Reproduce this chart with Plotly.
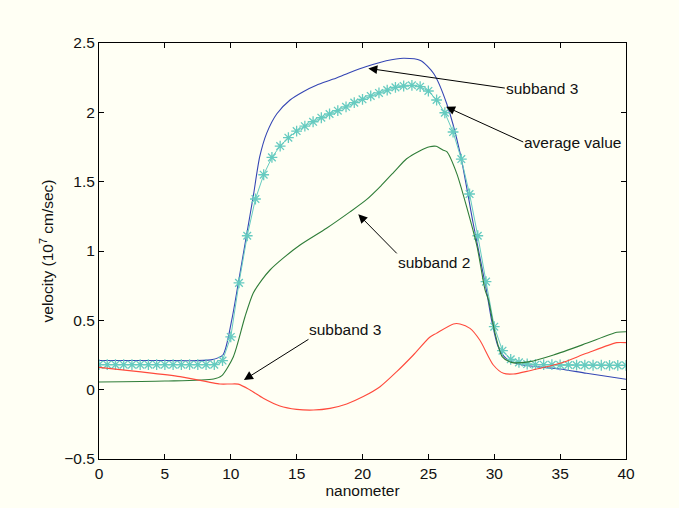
import numpy as np
import plotly.graph_objects as go

# ---- data ----
blue_x = [0, 5, 8.5, 9.4, 10.07, 10.57, 11.2, 11.7, 12.2, 12.73, 13.5, 14.5, 15.5, 16.5, 17.8, 19, 20.3,
          21.8, 23.1, 24.4, 25.4, 26.4, 27.4, 28.4, 29.4, 29.8, 30.3, 30.9, 31.9, 33.2, 35, 37, 40]
blue_y = [0.21, 0.21, 0.215, 0.25, 0.50, 0.767, 1.115, 1.39, 1.68, 1.85, 1.99, 2.089, 2.149, 2.195, 2.24,
          2.285, 2.33, 2.372, 2.39, 2.374, 2.28, 2.06, 1.71, 1.2, 0.72, 0.50, 0.31, 0.226, 0.183, 0.166,
          0.149, 0.118, 0.075]

green_x = [0, 5, 8.7, 9.3, 10.2, 11.08, 11.7, 12.35, 12.98, 14.0, 15.26, 17.27, 19.05, 20.3, 21.4, 22.47,
           23.35, 24.3, 25.1, 25.6, 26.1, 26.4, 27.15, 27.9, 28.7, 29.3, 29.56, 30.06, 30.6, 31.3, 32.7, 34.5,
           37, 39.3, 40]
green_y = [0.055, 0.062, 0.077, 0.099, 0.238, 0.526, 0.695, 0.79, 0.863, 0.95, 1.043, 1.164, 1.282, 1.37,
           1.47, 1.578, 1.665, 1.72, 1.752, 1.755, 1.728, 1.716, 1.56, 1.32, 1.03, 0.72, 0.647, 0.406,
           0.238, 0.197, 0.202, 0.25, 0.334, 0.414, 0.418]

red_x = [0, 3, 6.15, 9.18, 9.94, 10.57, 11.46, 12.47, 13.73, 15.0, 16.27, 17.53, 18.8, 20.06, 21.33, 22.6,
         23.86, 25.1, 25.6, 26.9, 27.4, 28.16, 28.9, 29.93, 30.7, 31.45, 32.7, 35, 37, 39.3, 40]
red_y = [0.161, 0.13, 0.094, 0.041, 0.041, 0.04, -0.002, -0.062, -0.118, -0.142, -0.147, -0.135, -0.103,
         -0.05, 0.021, 0.13, 0.25, 0.378, 0.406, 0.474, 0.474, 0.442, 0.358, 0.178, 0.118, 0.113, 0.137,
         0.19, 0.262, 0.339, 0.339]

avg_x = np.linspace(0, 40, 65)
avg_y = [0.18] * 15 + [0.21, 0.38, 0.77, 1.11, 1.375, 1.55, 1.675, 1.757, 1.817, 1.865, 1.90, 1.932, 1.961,
                      1.988, 2.012, 2.04, 2.07, 2.094, 2.118, 2.14, 2.16, 2.18, 2.19, 2.195, 2.185, 2.154,
                      2.089, 1.997, 1.858, 1.663, 1.411, 1.11, 0.779, 0.454, 0.281, 0.219, 0.197, 0.185] + \
        [0.18, 0.18, 0.18, 0.178, 0.178, 0.177, 0.177, 0.176, 0.176, 0.175, 0.175, 0.175]

x_ticks = [0, 5, 10, 15, 20, 25, 30, 35, 40]
y_ticks = [-0.5, 0, 0.5, 1, 1.5, 2, 2.5]
y_tick_text = ["\u22120.5", "0", "0.5", "1", "1.5", "2", "2.5"]

# annotations: (text, tip_x, tip_y, tail_x, tail_y, yanchor)
notes = [
    ("subband 3", 20.44, 2.317, 30.8, 2.175, "middle"),
    ("average value", 26.34, 2.04, 32.2, 1.786, "middle"),
    ("subband 2", 19.68, 1.265, 22.6, 0.983, "top"),
    ("subband 3", 11.0, 0.07, 15.9, 0.363, "bottom"),
]

BG = "#fffff4"
FONT = "Liberation Sans, Arial, Helvetica, sans-serif"
FS = 15.5

fig = go.Figure()
fig.add_trace(go.Scatter(x=blue_x, y=blue_y, mode="lines",
                         line=dict(color="#3546b4", width=1.1, shape="spline", smoothing=0.7)))
fig.add_trace(go.Scatter(x=avg_x, y=avg_y, mode="lines+markers",
                         line=dict(color="#66cbc0", width=1),
                         marker=dict(symbol="asterisk-open", size=9, color="#66cbc0",
                                     line=dict(color="#66cbc0", width=1.3))))
fig.add_trace(go.Scatter(x=green_x, y=green_y, mode="lines",
                         line=dict(color="#2f7d38", width=1.1, shape="spline", smoothing=0.7)))
fig.add_trace(go.Scatter(x=red_x, y=red_y, mode="lines",
                         line=dict(color="#ff4a3c", width=1.1, shape="spline", smoothing=0.7)))

for text, hx, hy, tx, ty, ya in notes:
    fig.add_annotation(x=hx, y=hy, ax=tx, ay=ty, xref="x", yref="y", axref="x", ayref="y",
                       text=text, showarrow=True, arrowhead=2, arrowsize=1.8, arrowwidth=1,
                       arrowcolor="black", xanchor="left", yanchor=ya, borderpad=0,
                       font=dict(size=FS, color="#111111", family=FONT))

fig.update_layout(
    width=679, height=508,
    margin=dict(l=99, r=53, t=43, b=49),
    paper_bgcolor=BG, plot_bgcolor=BG,
    showlegend=False,
    font=dict(family=FONT, size=FS, color="#111111"),
)
fig.update_xaxes(range=[0, 40], tickvals=x_ticks, ticks="inside", ticklen=5, tickcolor="black",
                 showline=True, linecolor="black", linewidth=1, mirror="ticks", showgrid=False,
                 zeroline=False, title=dict(text="nanometer", standoff=4, font=dict(size=FS)))
fig.update_yaxes(range=[-0.5, 2.5], tickvals=y_ticks, ticktext=y_tick_text, ticks="inside", ticklen=5,
                 tickcolor="black", showline=True, linecolor="black", linewidth=1, mirror="ticks",
                 showgrid=False, zeroline=False,
                 title=dict(text="velocity (10<sup>7</sup> cm/sec)", standoff=6, font=dict(size=FS)))

fig.write_html("out.html")
